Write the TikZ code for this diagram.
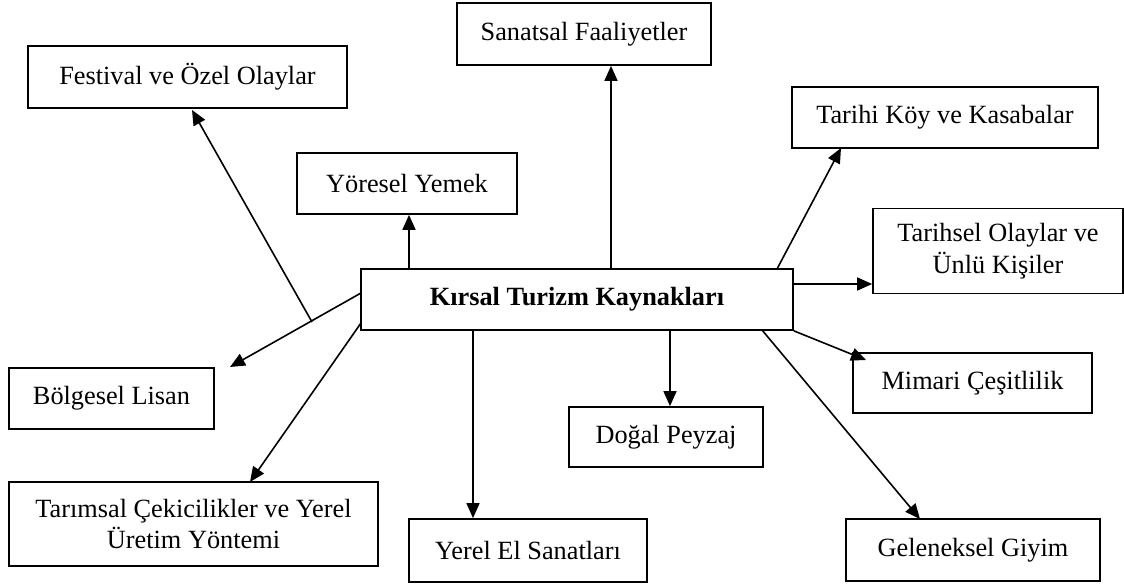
\documentclass[tikz,border=0pt]{standalone}
\usepackage{fontspec}
\setmainfont{Liberation Serif}
\usetikzlibrary{arrows.meta}
\begin{document}
\begin{tikzpicture}[x=1pt,y=-1pt,
  box/.style={draw,line width=1.7pt,inner sep=0pt,align=center,font=\fontsize{26.3}{31.5}\selectfont},
  arr/.style={line width=1.6pt,-{Triangle[length=15pt,width=13pt]}}]
\useasboundingbox (0,0) rectangle (1124,585);
% nodes
\node[box,minimum width=432pt,minimum height=61pt] (C) at (577,299.5) {\bfseries Kırsal Turizm Kaynakları};
\node[box,minimum width=254pt,minimum height=62pt] (S) at (584,34) {Sanatsal Faaliyetler};
\node[box,minimum width=319pt,minimum height=62pt] (F) at (187.5,77) {Festival ve Özel Olaylar};
\node[box,minimum width=220pt,minimum height=61pt] (Y) at (407,183.5) {Yöresel Yemek};
\node[box,minimum width=306pt,minimum height=61pt] (T) at (945,117.5) {Tarihi Köy ve Kasabalar};
\node[box,minimum width=250pt,minimum height=85pt] (O) at (998,251) {Tarihsel Olaylar ve\\Ünlü Kişiler};
\node[box,minimum width=239pt,minimum height=60pt] (M) at (972.5,383) {Mimari Çeşitlilik};
\node[box,minimum width=194pt,minimum height=60pt] (D) at (666,437) {Doğal Peyzaj};
\node[box,minimum width=254pt,minimum height=62pt] (G) at (973,550) {Geleneksel Giyim};
\node[box,minimum width=238pt,minimum height=63pt] (E) at (528,550.5) {Yerel El Sanatları};
\node[box,minimum width=369pt,minimum height=84pt] (A) at (193.5,524) {Tarımsal Çekicilikler ve Yerel\\Üretim Yöntemi};
\node[box,minimum width=205pt,minimum height=61pt] (B) at (111.5,398.5) {Bölgesel Lisan};
% connector end points
\coordinate (xS) at (611,0);
\coordinate (xY) at (409,0);
\coordinate (xD) at (670,0);
\coordinate (xE) at (473,0);
\coordinate (yO) at (0,284);
\coordinate (cF) at (312,322);
\coordinate (tF) at (192,110);
\coordinate (cT) at (777,269);
\coordinate (tT) at (841,148);
\coordinate (tM) at (866,360);
\coordinate (cG) at (762,330);
\coordinate (tG) at (920,519);
\coordinate (cA) at (361,323);
\coordinate (tA) at (250,482);
\coordinate (cB) at (361,293);
\coordinate (tB) at (230,367);
% connectors
\draw[arr] (C.north -| xS) -- (S.south -| xS);
\draw[arr] (C.north -| xY) -- (Y.south -| xY);
\draw[arr] (C.south -| xD) -- (D.north -| xD);
\draw[arr] (C.south -| xE) -- (E.north -| xE);
\draw[arr] (C.east |- yO) -- (O.west |- yO);
\draw[arr] (cT) -- (tT);
\draw[arr] (C.south east) -- (tM);
\draw[arr] (cG) -- (tG);
\draw[arr] (cA) -- (tA);
\draw[arr] (cB) -- (tB);
\draw[arr] (cF) -- (tF);
\end{tikzpicture}
\end{document}
